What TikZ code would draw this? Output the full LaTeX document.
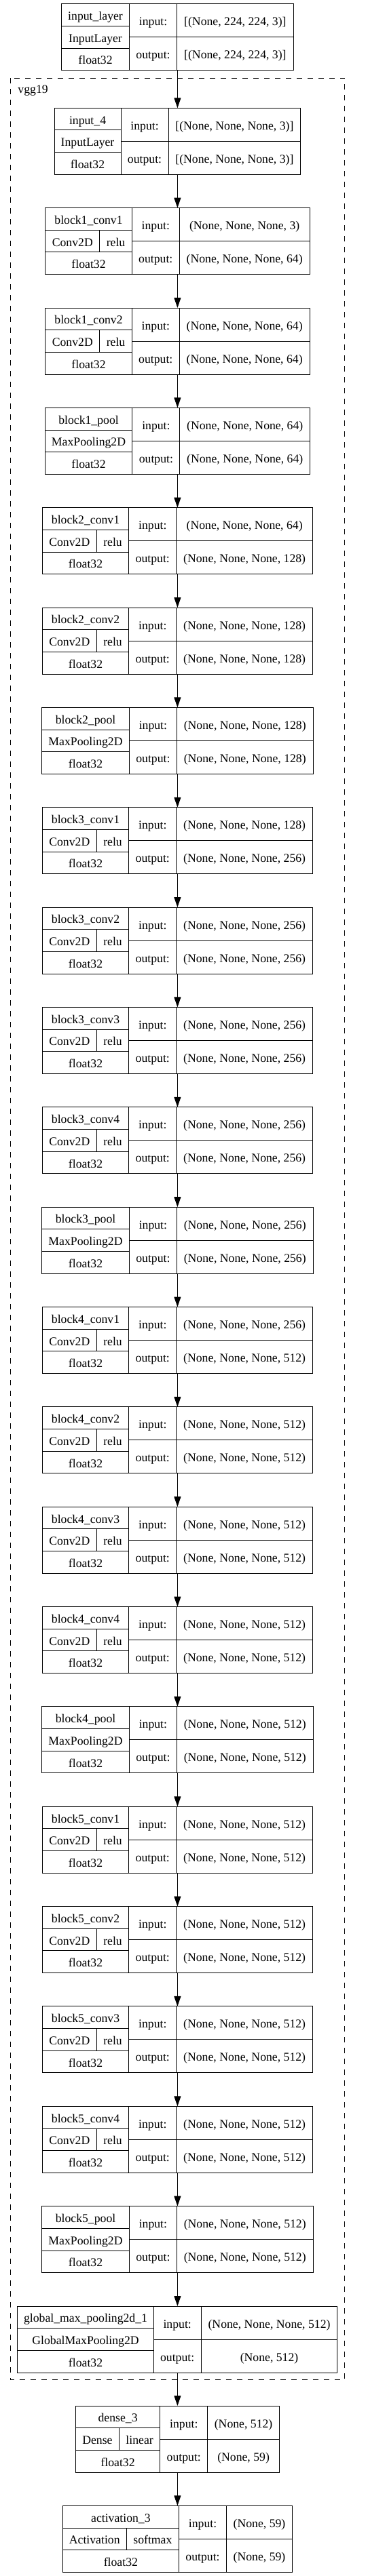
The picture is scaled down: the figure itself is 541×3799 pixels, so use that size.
\documentclass[tikz,border=0pt]{standalone}
\usepackage{fontspec}
\setmainfont{Liberation Serif}
\usetikzlibrary{calc,arrows.meta}

\tikzset{
  layer/.style={draw, inner sep=0pt, outer sep=0pt, minimum height=98pt, anchor=north},
  txt/.style={anchor=base, inner sep=0pt},
  link/.style={-{Triangle[length=15pt,width=10pt]}},
  cluster/.style={dash pattern=on 8pt off 8pt}
}

% name, top, left width, right width, layer name, type, input, output
\newcommand{\layerbox}[8]{
  \node[layer, minimum width={#3+70+#4}] (#1) at (261.4,#2) {};
  \begin{scope}[shift={(#1.north west)}]
    \draw (#3,0) -- (#3,98);
    \draw (#3+70,0) -- (#3+70,98);
    \draw (#3,49) -- (#3+70+#4,49);
    \draw (0,32.67) -- (#3,32.67);
    \draw (0,65.33) -- (#3,65.33);
    \node[txt] at (#3/2,23.8) {#5};
    \node[txt] at (#3/2,56.5) {#6};
    \node[txt] at (#3/2,89.2) {float32};
    \node[txt] at (#3+35,32) {input:};
    \node[txt] at (#3+35,81) {output:};
    \node[txt] at (#3+70+#4/2,32) {#7};
    \node[txt] at (#3+70+#4/2,81) {#8};
  \end{scope}
}
% name, left width, type width, type, activation
\newcommand{\typesplit}[5]{
  \begin{scope}[shift={(#1.north west)}]
    \draw (#3,32.67) -- (#3,65.33);
    \node[txt] at (#3/2,56.5) {#4};
    \node[txt] at (#3/2+#2/2,56.5) {#5};
  \end{scope}
}
\newcommand{\convbox}[6]{
  \layerbox{#1}{#2}{127.5}{#3}{#4}{}{#5}{#6}
  \typesplit{#1}{127.5}{80}{Conv2D}{relu}
}
\newcommand{\poolbox}[6]{
  \layerbox{#1}{#2}{128.7}{#3}{#4}{MaxPooling2D}{#5}{#6}
}

\begin{document}
\begin{tikzpicture}[x=1pt,y=-1pt,line width=1pt,font=\fontsize{17.7}{20}\selectfont]
    \useasboundingbox (0,0) rectangle (541,3799);
    \draw[cluster] (15,115) rectangle (507.7,3509.3);
    \node[anchor=base west,inner sep=0pt] (vgg) at (26,137.3) {vgg19};

    \layerbox{in0}{5.7}{100}{171.7}{input\_layer}{InputLayer}{[(None, 224, 224, 3)]}{[(None, 224, 224, 3)]}
    \layerbox{in4}{159.3}{98}{194.7}{input\_4}{InputLayer}{[(None, None, None, 3)]}{[(None, None, None, 3)]}

    \convbox{b1c1}{306.65}{191.7}{block1\_conv1}{(None, None, None, 3)}{(None, None, None, 64)}
    \convbox{b1c2}{454}{191.7}{block1\_conv2}{(None, None, None, 64)}{(None, None, None, 64)}
    \poolbox{b1p}{601.35}{191.7}{block1\_pool}{(None, None, None, 64)}{(None, None, None, 64)}

    \convbox{b2c1}{748.7}{200.7}{block2\_conv1}{(None, None, None, 64)}{(None, None, None, 128)}
    \convbox{b2c2}{896.05}{200.7}{block2\_conv2}{(None, None, None, 128)}{(None, None, None, 128)}
    \poolbox{b2p}{1043.4}{200.7}{block2\_pool}{(None, None, None, 128)}{(None, None, None, 128)}

    \convbox{b3c1}{1190.75}{200.7}{block3\_conv1}{(None, None, None, 128)}{(None, None, None, 256)}
    \convbox{b3c2}{1338.1}{200.7}{block3\_conv2}{(None, None, None, 256)}{(None, None, None, 256)}
    \convbox{b3c3}{1485.45}{200.7}{block3\_conv3}{(None, None, None, 256)}{(None, None, None, 256)}
    \convbox{b3c4}{1632.8}{200.7}{block3\_conv4}{(None, None, None, 256)}{(None, None, None, 256)}
    \poolbox{b3p}{1780.15}{200.7}{block3\_pool}{(None, None, None, 256)}{(None, None, None, 256)}

    \convbox{b4c1}{1927.5}{200.7}{block4\_conv1}{(None, None, None, 256)}{(None, None, None, 512)}
    \convbox{b4c2}{2074.85}{200.7}{block4\_conv2}{(None, None, None, 512)}{(None, None, None, 512)}
    \convbox{b4c3}{2222.2}{200.7}{block4\_conv3}{(None, None, None, 512)}{(None, None, None, 512)}
    \convbox{b4c4}{2369.55}{200.7}{block4\_conv4}{(None, None, None, 512)}{(None, None, None, 512)}
    \poolbox{b4p}{2516.9}{200.7}{block4\_pool}{(None, None, None, 512)}{(None, None, None, 512)}

    \convbox{b5c1}{2664.25}{200.7}{block5\_conv1}{(None, None, None, 512)}{(None, None, None, 512)}
    \convbox{b5c2}{2811.6}{200.7}{block5\_conv2}{(None, None, None, 512)}{(None, None, None, 512)}
    \convbox{b5c3}{2958.95}{200.7}{block5\_conv3}{(None, None, None, 512)}{(None, None, None, 512)}
    \convbox{b5c4}{3106.3}{200.7}{block5\_conv4}{(None, None, None, 512)}{(None, None, None, 512)}
    \poolbox{b5p}{3253.65}{200.7}{block5\_pool}{(None, None, None, 512)}{(None, None, None, 512)}

    \layerbox{gmp}{3401}{200.3}{200.7}{global\_max\_pooling2d\_1}{GlobalMaxPooling2D}{(None, None, None, 512)}{(None, 512)}
    \layerbox{dense}{3548}{124.4}{105.6}{dense\_3}{}{(None, 512)}{(None, 59)}
    \typesplit{dense}{124.4}{64}{Dense}{linear}
    \layerbox{act}{3695.3}{171.3}{97}{activation\_3}{}{(None, 59)}{(None, 59)}
    \typesplit{act}{171.3}{94}{Activation}{softmax}

    \foreach \a/\b in {in0/in4, in4/b1c1, b1c1/b1c2, b1c2/b1p, b1p/b2c1, b2c1/b2c2, b2c2/b2p,
        b2p/b3c1, b3c1/b3c2, b3c2/b3c3, b3c3/b3c4, b3c4/b3p, b3p/b4c1, b4c1/b4c2, b4c2/b4c3,
        b4c3/b4c4, b4c4/b4p, b4p/b5c1, b5c1/b5c2, b5c2/b5c3, b5c3/b5c4, b5c4/b5p, b5p/gmp,
        gmp/dense, dense/act}
        \draw[link] (\a) -- (\b);
\end{tikzpicture}
\end{document}
